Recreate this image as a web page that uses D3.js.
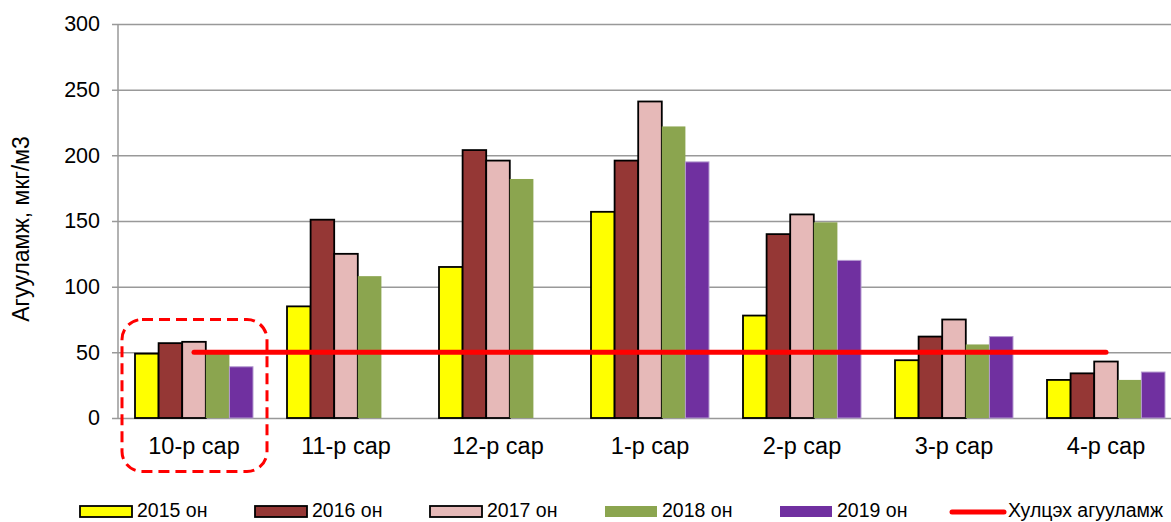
<!DOCTYPE html>
<html>
<head>
<meta charset="utf-8">
<script src="https://cdn.jsdelivr.net/npm/d3@7"></script>
<style>
  body { margin: 0; background: #fff; }
  svg { display: block; font-family: "Liberation Sans", Arial, sans-serif; }
</style>
</head>
<body>
<script>
// months (Oct..Apr) and yearly averages
var months = ["10-р сар", "11-р сар", "12-р сар", "1-р сар", "2-р сар", "3-р сар", "4-р сар"];
var years = ["2015 он", "2016 он", "2017 он", "2018 он", "2019 он"];
var v2015 = [49, 85, 115, 157, 78, 44, 29];
var v2016 = [57, 151, 204, 196, 140, 62, 34];
var v2017 = [58, 125, 196, 241, 155, 75, 43];
var v2018 = [49, 108, 182, 222, 149, 56, 29];
var v2019 = [39, null, null, 195, 120, 62, 35];
var limitLabel = "Хулцэх агууламж";
var limitValue = 50;
var yTicks = [0, 50, 100, 150, 200, 250, 300];

var colors = ["#ffff00", "#953735", "#e6b9b8", "#8ba54f", "#7030a0"];
var outlined = [true, true, true, false, false];
var fontFam = "'Liberation Sans', Arial, sans-serif";

var width = 1171, height = 522;
var svg = d3.select("body").append("svg")
  .attr("width", width)
  .attr("height", height);

var x = d3.scaleBand()
  .domain(months)
  .range([118, 1182]);

var x1 = d3.scaleBand()
  .domain(years)
  .range([17, x.bandwidth() - 17]);

var y = d3.scaleLinear()
  .domain([0, 300])
  .range([418, 24]);

// gridlines + y ticks
var yAxis = d3.axisLeft(y)
  .tickValues(yTicks)
  .tickSize(-(width - 118 + 6))
  .tickPadding(11);

var gy = svg.append("g")
  .attr("transform", "translate(112,0)")
  .call(yAxis)
  .attr("font-family", fontFam)
  .attr("font-size", 21.5);
gy.select(".domain").remove();
gy.selectAll(".tick line")
  .attr("stroke", "#999")
  .attr("stroke-width", 1.5);
gy.selectAll(".tick text")
  .attr("fill", "#000")
  .attr("x", -12);

// vertical axis line
svg.append("line")
  .attr("x1", 118).attr("x2", 118)
  .attr("y1", y(300)).attr("y2", y(0))
  .attr("stroke", "#999")
  .attr("stroke-width", 1.5);

// bars
var series = [v2015, v2016, v2017, v2018, v2019];
var barData = [];
series.forEach(function(vals, si) {
  vals.forEach(function(v, mi) {
    if (v != null) barData.push({month: months[mi], year: years[si], si: si, value: v});
  });
});

svg.append("g").selectAll("rect")
  .data(barData)
  .enter().append("rect")
  .attr("x", function(d) { return x(d.month) + x1(d.year); })
  .attr("width", x1.bandwidth())
  .attr("y", function(d) { return y(d.value); })
  .attr("height", function(d) { return y(0) - y(d.value); })
  .attr("fill", function(d) { return colors[d.si]; })
  .attr("stroke", function(d) { return outlined[d.si] ? "#000" : (d.si == 4 ? "#b49ad0" : "none"); })
  .attr("stroke-width", function(d) { return outlined[d.si] ? 1.8 : 1; });

// x axis labels
var xAxis = d3.axisBottom(x).tickSize(0).tickPadding(19);
var gx = svg.append("g")
  .attr("transform", "translate(0," + y(0) + ")")
  .call(xAxis)
  .attr("font-family", fontFam)
  .attr("font-size", 23.5);
gx.select(".domain").remove();
gx.selectAll(".tick text")
  .attr("fill", "#000");

// limit line
svg.append("line")
  .attr("x1", x(months[0]) + x.bandwidth() / 2)
  .attr("x2", x(months[months.length - 1]) + x.bandwidth() / 2)
  .attr("y1", y(limitValue)).attr("y2", y(limitValue))
  .attr("stroke", "#ff0000")
  .attr("stroke-width", 5)
  .attr("stroke-linecap", "round");

// dashed highlight around October
svg.append("rect")
  .attr("x", x(months[0]) + 4)
  .attr("y", y(75))
  .attr("width", 145)
  .attr("height", 152)
  .attr("rx", 20).attr("ry", 20)
  .attr("fill", "none")
  .attr("stroke", "#ff0000")
  .attr("stroke-width", 3)
  .attr("stroke-dasharray", "11,6");

// y axis title
svg.append("text")
  .attr("transform", "translate(29,229) rotate(-90)")
  .attr("text-anchor", "middle")
  .style("font-size", "23px")
  .text("Агууламж, мкг/м3");

// legend
var legendX = d3.scalePoint()
  .domain(years.concat([limitLabel]))
  .range([80, 955]);

var lg = svg.append("g").selectAll("g")
  .data(years.concat([limitLabel]))
  .enter().append("g")
  .attr("transform", function(d) { return "translate(" + legendX(d) + ",0)"; });

lg.each(function(d, i) {
  var g = d3.select(this);
  if (i < years.length) {
    g.append("rect")
      .attr("x", 0).attr("y", 506)
      .attr("width", 52).attr("height", 11)
      .attr("fill", colors[i])
      .attr("stroke", outlined[i] ? "#000" : "none")
      .attr("stroke-width", 1.8);
  } else {
    g.append("line")
      .attr("x1", -3).attr("x2", 49)
      .attr("y1", 512).attr("y2", 512)
      .attr("stroke", "#ff0000")
      .attr("stroke-width", 5)
      .attr("stroke-linecap", "round");
  }
  g.append("text")
    .attr("x", i < years.length ? 57 : 53)
    .attr("y", 517)
    .style("font-size", "19.5px")
    .text(d);
});
</script>
</body>
</html>
